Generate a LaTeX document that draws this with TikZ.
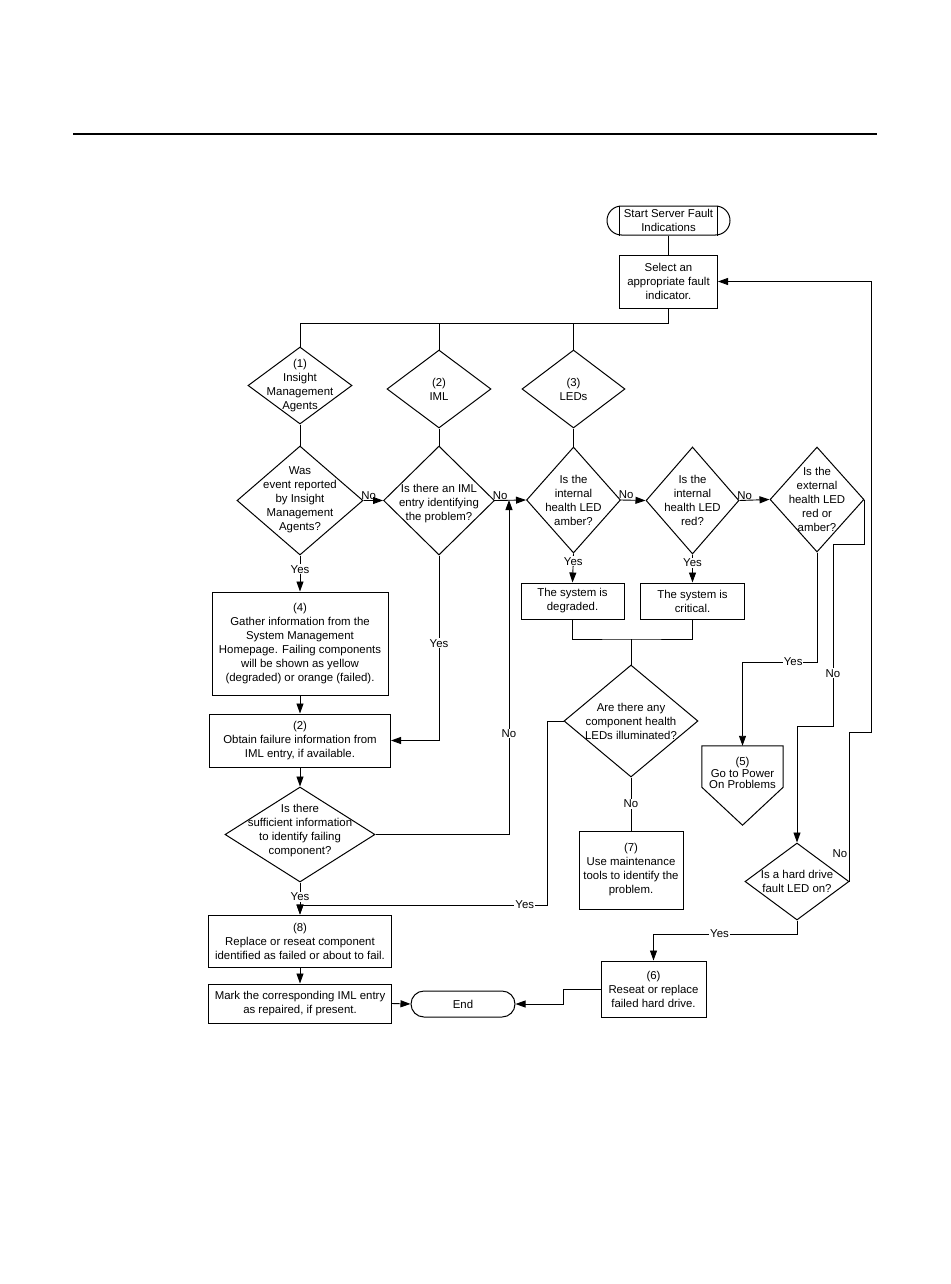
\documentclass[tikz,border=0pt]{standalone}
\usepackage{fontspec}
\setmainfont{Liberation Sans}
\usetikzlibrary{arrows.meta,shapes.geometric}
\begin{document}
\begin{tikzpicture}[x=1pt,y=-1pt,
  every node/.style={font=\fontsize{11.4}{14}\selectfont, align=center},
  box/.style n args={2}{draw, line width=1pt, inner sep=0pt, minimum width=#1, minimum height=#2},
  dia/.style n args={2}{draw, diamond, line width=1pt, inner sep=0pt, minimum width=#1, minimum height=#2},
  txt/.style={inner sep=0pt},
  con/.style={line width=0.9pt},
  arr/.style={con, -{Triangle[length=10pt,width=7pt]}},
  lab/.style={fill=white, inner sep=1pt},
  nolab/.style={anchor=south west, inner sep=0.5pt, xshift=-3pt, pos=0}
]
\useasboundingbox (0,0) rectangle (950,1284);
\draw[line width=1.6pt] (73,134) -- (877,134);

% start and select
\node[box={123pt}{29pt}, rounded corners=14.5pt] (start) at (668.5,220.5) {Start Server Fault\\Indications};
\draw[line width=1pt] ([xshift=13pt]start.north west) -- ([xshift=13pt]start.south west);
\draw[line width=1pt] ([xshift=-13pt]start.north east) -- ([xshift=-13pt]start.south east);
\node[box={98pt}{53pt}] (sel) at (668.5,281.5) {Select an\\appropriate fault\\indicator.};
\draw[con] (start.south) -- (sel.north);

% first row diamonds
\node[dia={104pt}{77pt}] (d1) at (300,385.5) {};
\node[txt] (t1) at (d1) {(1)\\Insight\\Management\\Agents};
\node[dia={104pt}{78pt}] (d2) at (439,389) {};
\node[txt] (t2) at (d2) {(2)\\IML};
\node[dia={103pt}{78pt}] (d3) at (573.5,389) {};
\node[txt] (t3) at (d3) {(3)\\LEDs};

\coordinate (bus) at (668.5,323);
\draw[con] (sel.south) -- (bus) -| (d1.north);
\draw[con] (d2.north) -- (d2.north |- bus);
\draw[con] (d3.north) -- (d3.north |- bus);

% second row diamonds
\node[dia={126pt}{109pt}] (q1) at (300,500.5) {};
\node[txt] (tq1) at (300,500) {Was\\event reported\\by Insight\\Management\\Agents?};
\node[dia={111pt}{109pt}] (q2) at (439,500.5) {};
\node[txt] (tq2) at (439,504) {Is there an IML\\entry identifying\\the problem?};
\node[dia={94pt}{106pt}] (q3) at (573.5,500) {};
\node[txt] (tq3) at (573.5,500) {Is the\\internal\\health LED\\amber?};
\node[dia={93pt}{107pt}] (q4) at (692.5,500.5) {};
\node[txt] (tq4) at (692.5,500) {Is the\\internal\\health LED\\red?};
\node[dia={94pt}{105pt}] (q5) at (817,499.5) {};
\node[txt] (tq5) at (817,499.5) {Is the\\external\\health LED\\red or\\amber?};

\draw[con] (d1.south) -- (q1.north);
\draw[con] (d2.south) -- (q2.north);
\draw[con] (d3.south) -- (q3.north);

\draw[arr] (q1.east) -- node[nolab]{No} (q2.west);
\draw[arr] (q2.east) -- node[nolab]{No} (q3.west);
\draw[arr] (q3.east) -- node[nolab]{No} (q4.west);
\draw[arr] (q4.east) -- node[nolab]{No} (q5.west);

% left column
\node[box={176pt}{103pt}] (b4) at (300,643.5) {(4)\\Gather information from the\\System Management\\Homepage. Failing components\\will be shown as yellow\\(degraded) or orange (failed).};
\node[box={181pt}{53pt}] (b2) at (300,740.5) {(2)\\Obtain failure information from\\IML entry, if available.};
\node[dia={150pt}{95pt}] (q6) at (300,834.5) {};
\node[txt] (tq6) at (300,831) {Is there\\sufficient information\\to identify failing\\component?};
\node[box={183pt}{52pt}] (b8) at (300,941) {(8)\\Replace or reseat component\\identified as failed or about to fail.};
\node[box={183pt}{39pt}] (mark) at (300,1003.5) {Mark the corresponding IML entry\\as repaired, if present.};
\node[box={104pt}{26pt}, rounded corners=13pt] (end) at (463,1004) {End};

\draw[arr] (q1.south) -- node[lab, pos=0.38]{Yes} (b4.north);
\draw[arr] (b4.south) -- (b2.north);
\draw[arr] (q2.south) |- node[lab, pos=0.237]{Yes} (b2.east);
\draw[arr] (b2.south) -- (q6.north);
\coordinate (noj) at (509,500);
\draw[arr] (q6.east) -| node[lab, pos=0.651]{No} (noj);
\draw[arr] (q6.south) -- node[lab, pos=0.45]{Yes} (b8.north);
\draw[arr] (b8.south) -- (mark.north);
\draw[arr] (mark.east) -- (end.west);

% LED branch
\node[box={103pt}{36pt}] (deg) at (572.5,601) {The system is\\degraded.};
\node[box={104pt}{36pt}] (crit) at (692.5,601) {The system is\\critical.};
\draw[arr] (q3.south) -- node[lab, pos=0.27]{Yes} (deg.north);
\draw[arr] (q4.south) -- node[lab, pos=0.3]{Yes} (crit.north);

\node[dia={134pt}{112pt}] (q7) at (631,721) {};
\node[txt] (tq7) at (631,721) {Are there any\\component health\\LEDs illuminated?};
\coordinate (mg) at (631,639);
\draw[con] (deg.south) |- (mg) -| (crit.south);
\draw[con] (mg) -- (q7.north);

\node[box={104pt}{78pt}] (b7) at (631,870) {(7)\\Use maintenance\\tools to identify the\\problem.};
\draw[con] (q7.south) -- node[lab]{No} (b7.north);

\coordinate (yj) at (547,905);
\draw[arr] (q7.west) -| (yj) -- node[lab, pos=0.09]{Yes} (yj -| b8.north) -- (b8.north);

% external LED branch
\node[minimum width=81pt, minimum height=41pt, inner sep=0pt] (p5) at (742.5,766.5) {};
\draw[line width=1pt] (p5.north west) -- (p5.north east) -- (p5.south east) -- ([yshift=-38pt]p5.south) -- (p5.south west) -- cycle;
\node[txt, font=\fontsize{11.4}{11.5}\selectfont] (t5) at (742.5,773) {(5)\\Go to Power\\On Problems};

\coordinate (yc) at (817,662);
\draw[arr] (q5.south) -- (yc) -| node[lab, pos=0.16]{Yes} (p5.north);

\node[dia={104pt}{77pt}] (hd) at (797,881.5) {};
\node[txt] (thd) at (797,881) {Is a hard drive\\fault LED on?};

\coordinate (n1) at (864,544);
\coordinate (n2) at (833,726);
\draw[arr] (q5.east) -- (q5.east |- n1) -- (n1 -| n2) -- node[lab, pos=0.71]{No} (n2) -| (hd.north);

\coordinate (h1) at (871,732);
\draw[arr] (hd.east) |- (h1) |- (sel.east);
\node[inner sep=0.5pt] (nohd) at (840,854) {No};

\node[box={105pt}{56pt}] (b6) at (653.5,989) {(6)\\Reseat or replace\\failed hard drive.};
\coordinate (hy) at (797,934);
\draw[arr] (hd.south) -- (hy) -| node[lab, pos=0.27]{Yes} (b6.north);

\coordinate (e1) at (563,989);
\draw[arr] (b6.west) -- (e1) |- (end.east);
\end{tikzpicture}
\end{document}
